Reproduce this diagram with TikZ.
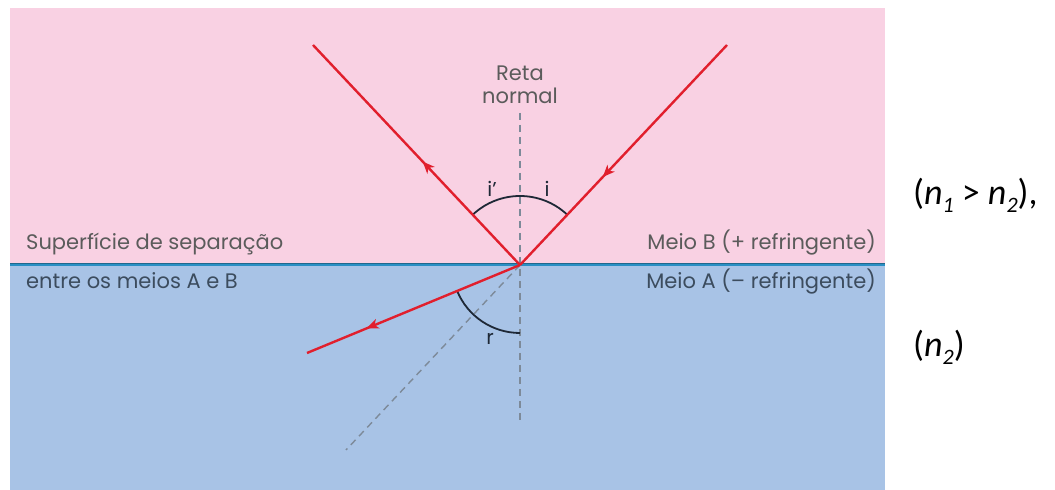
\documentclass[tikz,border=0pt]{standalone}
\usepackage{fontspec}
\setmainfont{Poppins}
\newfontfamily\calib{Carlito}
\usetikzlibrary{arrows.meta,decorations.markings}
\definecolor{pinkbg}{HTML}{F9D1E3}
\definecolor{bluebg}{HTML}{A8C3E6}
\definecolor{iface}{HTML}{2A8FC4}
\definecolor{ifacedark}{HTML}{22688C}
\definecolor{rayred}{HTML}{E11F2D}
\definecolor{dashgray}{HTML}{7D8A99}
\definecolor{arcnavy}{HTML}{1E2836}
\definecolor{txtgray}{HTML}{5B5B5B}
\definecolor{txtnavy}{HTML}{3C4C5E}
\newcommand\mysub[1]{\raisebox{-0.45ex}{\fontsize{22}{22}\selectfont\itshape #1}}
\begin{document}
\begin{tikzpicture}[x=1pt,y=1pt,
  ray/.style={draw=rayred,line width=2.4pt},
  rayarrow/.style={postaction={decorate},decoration={markings,
     mark=at position #1 with {\arrow{Stealth[length=12pt,width=10pt,inset=3.5pt]}}}},
  dashline/.style={draw=dashgray,line width=1.4pt,dash pattern=on 7pt off 5pt},
  anglearc/.style={draw=arcnavy,line width=1.8pt},
  lbl/.style={inner sep=0pt,font=\fontsize{21}{25}\selectfont},
  anglbl/.style={inner sep=0pt,text=arcnavy,font=\fontsize{20}{24}\selectfont},
  sidelbl/.style={inner sep=0pt,font=\calib\fontsize{36}{40}\selectfont}]
\useasboundingbox (0,0) rectangle (1055,490);
% media
\fill[pinkbg] (10,225) rectangle (885,482);
\fill[bluebg] (10,0) rectangle (885,225);
\coordinate (ifL) at (10,225);
\coordinate (ifR) at (885,225);
\draw[draw=iface,line width=3pt] (ifL) -- (ifR);
\draw[draw=ifacedark,line width=0.6pt] ([yshift=1.3pt]ifL) -- ([yshift=1.3pt]ifR);
% key points
\coordinate (O) at (520,225);
\coordinate (I) at (727,445);
\coordinate (R) at (313,445);
\coordinate (T) at (307,137);
\coordinate (N1) at (520,377);
\coordinate (N2) at (520,67);
\coordinate (D) at (346,40);
% normal and extension
\draw[dashline] (N1) -- (N2);
\draw[dashline] (O) -- (D);
% angle arcs
\draw[anglearc] ([shift={(46.7:69)}]O) arc[start angle=46.7,end angle=133.3,radius=69];
\draw[anglearc] ([shift={(202.4:68)}]O) arc[start angle=202.4,end angle=270,radius=68];
% rays
\draw[ray,rayarrow=0.6] (I) -- (O);
\draw[ray,rayarrow=0.47] (O) -- (R);
\draw[ray,rayarrow=0.72] (O) -- (T);
% labels
\node[lbl,text=txtgray,anchor=base] (reta) at (520,409) {Reta};
\node[lbl,text=txtgray,anchor=base] (normal) at (520,386) {normal};
\node[anglbl,anchor=base] (ilp) at (492,293) {i'};
\node[anglbl,anchor=base] (il) at (547,293) {i};
\node[anglbl,anchor=base] (rl) at (490,145) {r};
\node[lbl,text=txtgray,anchor=base west] (sup1) at (26,240) {Superfície de separação};
\node[lbl,text=txtnavy,anchor=base west] (sup2) at (26,201) {entre os meios A e B};
\node[lbl,text=txtgray,anchor=base east] (mb) at (876,240) {Meio B (+ refringente)};
\node[lbl,text=txtnavy,anchor=base east] (ma) at (876,201) {Meio A (– refringente)};
\node[sidelbl,anchor=base west] (n12) at (913,285) {(\textit{n}\mysub{1} > \textit{n}\mysub{2}),};
\node[sidelbl,anchor=base west] (n2) at (913,133) {(\textit{n}\mysub{2})};
\end{tikzpicture}
\end{document}
